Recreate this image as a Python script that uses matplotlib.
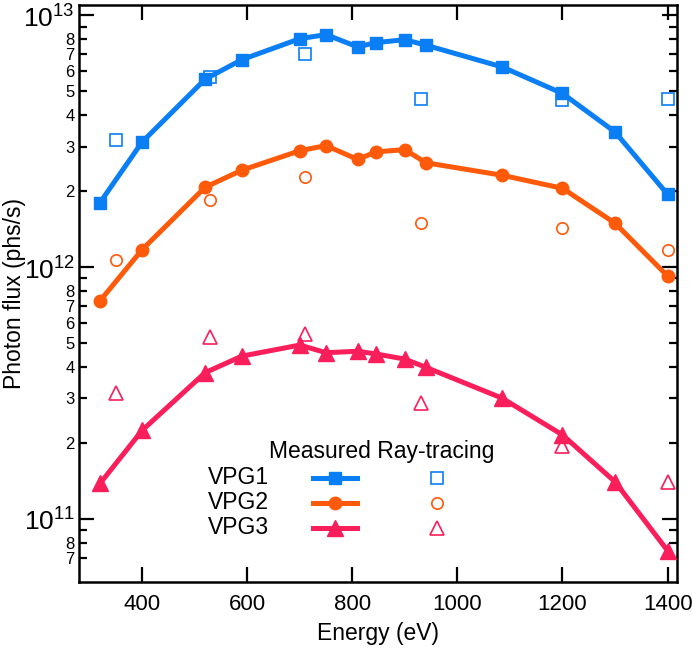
import math
import matplotlib
matplotlib.use("Agg")
import matplotlib.pyplot as plt
from matplotlib.ticker import FixedLocator, FuncFormatter

plt.rcParams["font.family"] = ["Liberation Sans", "DejaVu Sans"]
plt.rcParams["mathtext.fontset"] = "custom"
plt.rcParams["mathtext.rm"] = "Liberation Sans"

# measured data (all three gratings share the same energies)
energy_meas = [320, 400, 520, 590, 700, 750, 810, 845, 900, 940, 1085, 1200, 1300, 1400]
vpg1_meas = [1.80e12, 3.13e12, 5.56e12, 6.65e12, 8.05e12, 8.36e12, 7.47e12, 7.77e12,
             7.98e12, 7.59e12, 6.22e12, 4.88e12, 3.43e12, 1.94e12]
vpg2_meas = [7.33e11, 1.17e12, 2.07e12, 2.42e12, 2.89e12, 3.03e12, 2.67e12, 2.86e12,
             2.92e12, 2.59e12, 2.31e12, 2.05e12, 1.49e12, 9.19e11]
vpg3_meas = [1.38e11, 2.24e11, 3.80e11, 4.42e11, 4.89e11, 4.56e11, 4.62e11, 4.51e11,
             4.30e11, 3.99e11, 3.01e11, 2.15e11, 1.40e11, 7.46e10]

# ray-tracing
energy_ray = [350, 530, 710, 930, 1200, 1400]
vpg1_ray = [3.20e12, 5.65e12, 6.97e12, 4.63e12, 4.59e12, 4.63e12]
vpg2_ray = [1.06e12, 1.84e12, 2.28e12, 1.49e12, 1.42e12, 1.17e12]
vpg3_ray = [3.15e11, 5.25e11, 5.40e11, 2.87e11, 1.95e11, 1.40e11]

names = ["VPG1", "VPG2", "VPG3"]
x_ticks = [400, 600, 800, 1000, 1200, 1400]

BLUE = "#0a7ff5"
ORANGE = "#ff5a0a"
RED = "#fa1e5a"
colors = [BLUE, ORANGE, RED]
markers = ["s", "o", "^"]
msizes = [9, 9, 11]

fig = plt.figure(figsize=(6.92, 6.54), dpi=100)
ax = fig.add_axes([0.1142, 0.1106, 0.8642, 0.8818])

meas = [vpg1_meas, vpg2_meas, vpg3_meas]
ray = [vpg1_ray, vpg2_ray, vpg3_ray]
for m, r, c, mk, ms in zip(meas, ray, colors, markers, msizes):
    ax.plot(energy_meas, m, color=c, lw=3.6, marker=mk, ms=ms, zorder=3)
    ax.plot(energy_ray, r, ls="none", marker=mk, ms=ms - 0.8, mfc="white",
            mec=c, mew=1.2, zorder=2)

ax.set_yscale("log")
ax.set_xlim(280, 1418)
ax.set_ylim(5.62e10, 1.096e13)

# ticks
ax.xaxis.set_major_locator(FixedLocator(x_ticks))
ax.xaxis.set_minor_locator(FixedLocator([]))
major_y = [1e11, 1e12, 1e13]
minor_y = [k * 10.0 ** e for e in (10, 11, 12) for k in range(2, 10)]
minor_y = [v for v in minor_y if 6.5e10 < v < 1e13]
ax.yaxis.set_major_locator(FixedLocator(major_y))
ax.yaxis.set_minor_locator(FixedLocator(minor_y))


def minor_fmt(v, pos):
    mant = round(v / 10 ** math.floor(math.log10(v)))
    return str(mant) if 2 <= mant <= 8 else ""


ax.yaxis.set_major_formatter(FuncFormatter(lambda v, p: r"$10^{%d}$" % round(math.log10(v))))
ax.yaxis.set_minor_formatter(FuncFormatter(minor_fmt))

ax.tick_params(which="both", direction="in", top=True, right=True, width=1.6, color="black")
ax.tick_params(which="major", length=11, labelsize=16, pad=7)
ax.tick_params(axis="y", which="major", labelsize=19, pad=3)
ax.tick_params(which="minor", length=6, labelsize=12, pad=3)
ax.tick_params(axis="x", which="major", pad=9)
for s in ax.spines.values():
    s.set_linewidth(1.8)

ax.set_xlabel("Energy (eV)", fontsize=16.5, labelpad=5)
ax.set_ylabel("Photon flux (phs/s)", fontsize=16.5)
ax.yaxis.set_label_coords(-0.088, 0.5)

# legend drawn by hand (row labels on the left, two key columns)
tr = ax.transAxes
ax.text(0.3177, 0.2254, "Measured Ray-tracing", transform=tr, fontsize=16.5,
        ha="left", va="center")
rows_y = [0.1798, 0.1365, 0.0932]
for name, c, mk, ms, yy in zip(names, colors, markers, msizes, rows_y):
    ax.text(0.2157, yy, name, transform=tr, fontsize=16.5, ha="left", va="center")
    ax.plot([0.391, 0.465], [yy, yy], transform=tr, color=c, lw=3.6, clip_on=False)
    ax.plot([0.428], [yy], transform=tr, color=c, marker=mk, ms=ms, clip_on=False)
    ax.plot([0.599], [yy], transform=tr, ls="none", marker=mk, ms=ms - 0.8,
            mfc="white", mec=c, mew=1.2, clip_on=False)

fig.savefig("out.png", dpi=100, facecolor="white")
